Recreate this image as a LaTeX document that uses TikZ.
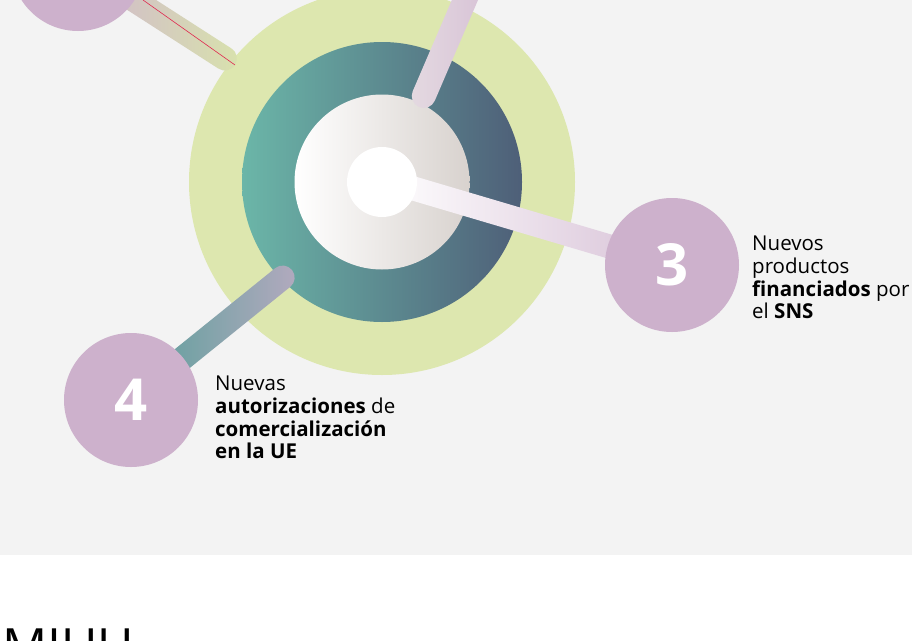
\documentclass[tikz,border=0pt]{standalone}
\usepackage{fontspec}
\setmainfont{Open Sans}
\usetikzlibrary{calc}
\usetikzlibrary{positioning}
\definecolor{bggray}{HTML}{F3F3F3}
\definecolor{lime}{HTML}{DDE7AF}
\definecolor{tealA}{HTML}{6BB6A8}
\definecolor{tealC}{HTML}{559E98}
\definecolor{slateB}{HTML}{4E5F78}
\definecolor{pearl}{HTML}{D8D2CE}
\definecolor{mauve}{HTML}{CDB1CC}
\definecolor{redline}{HTML}{E0284F}
\tikzset{x=1pt,y=-1pt,
    numcircle/.style={
        circle,
        fill=mauve,
        minimum size=134pt,
        inner sep=0pt,
        text=white,
        font=\fontsize{58}{60}\selectfont\bfseries},
    bartxt/.style={
        align=left,
        inner sep=0pt,
        anchor=north west,
        font=\fontsize{20.5}{22.6}\selectfont},
    barshape/.style={
        rectangle,
        minimum height=24pt,
        inner sep=0pt,
        rounded corners=12pt}}
% thick shaded bar from #1 to #2
\newcommand{\connect}[4]{%
    \path let \p1=($(#2)-(#1)$), \n1={atan2(\y1,\x1)}, \n2={veclen(\x1,\y1)} in
        node[barshape,minimum width=\n2,rotate=\n1,left color=#3,right color=#4]
        at ($(#1)!0.5!(#2)$) {};}

\begin{document}
\begin{tikzpicture}
    \useasboundingbox (0,0) rectangle (912,640);
    \fill[bggray] (0,0) rectangle (912,555);

    % rings
    \node[circle,fill=lime,minimum size=386pt,inner sep=0pt] (outer) at (382,182) {};
    \node[circle,left color=tealA,right color=slateB,minimum size=280pt,inner sep=0pt] (ring) at (outer) {};
    \node[circle,left color=white,right color=pearl,minimum size=175pt,inner sep=0pt] (inner) at (outer) {};

    % ends of the bars
    \coordinate (c1) at (78,-36);
    \coordinate (c3) at (672,265);
    \coordinate (c4) at (131,400);
    \coordinate (e1) at (235,65);
    \coordinate (e2) at (419,107);
    \coordinate (e2top) at (495,-70);
    \coordinate (e3) at (395,183);
    \coordinate (e4) at (292,270);

    \connect{c1}{e1}{mauve!95!white}{lime!95!gray}
    \connect{e2}{e2top}{pearl!50!mauve!60!white}{mauve!85!white}
    \connect{e3}{c3}{white!96!mauve}{mauve!80!white}
    \connect{e4}{c4}{tealC}{mauve!65!slateB!80!white}

    \node[numcircle] (n1) at (c1) {};
    \node[numcircle] (n3) at (c3) {3};
    \node[numcircle] (n4) at (c4) {4};
    \draw[redline,line width=0.6pt] (143,0) -- (e1);

    \node[circle,fill=white,minimum size=70pt,inner sep=0pt] (core) at (outer) {};

    % labels
    \node[bartxt] (t3) at (752,236) {Nuevos\\productos\\\textbf{financiados} por\\el \textbf{SNS}};
    \node[bartxt] (t4) at (215,376) {Nuevas\\\textbf{autorizaciones} de\\\textbf{comercialización}\\\textbf{en la UE}};

    \node[anchor=base west,inner sep=0pt,font=\fontsize{50}{56}\selectfont] (head) at (2,664) {MIUU};
\end{tikzpicture}
\end{document}
